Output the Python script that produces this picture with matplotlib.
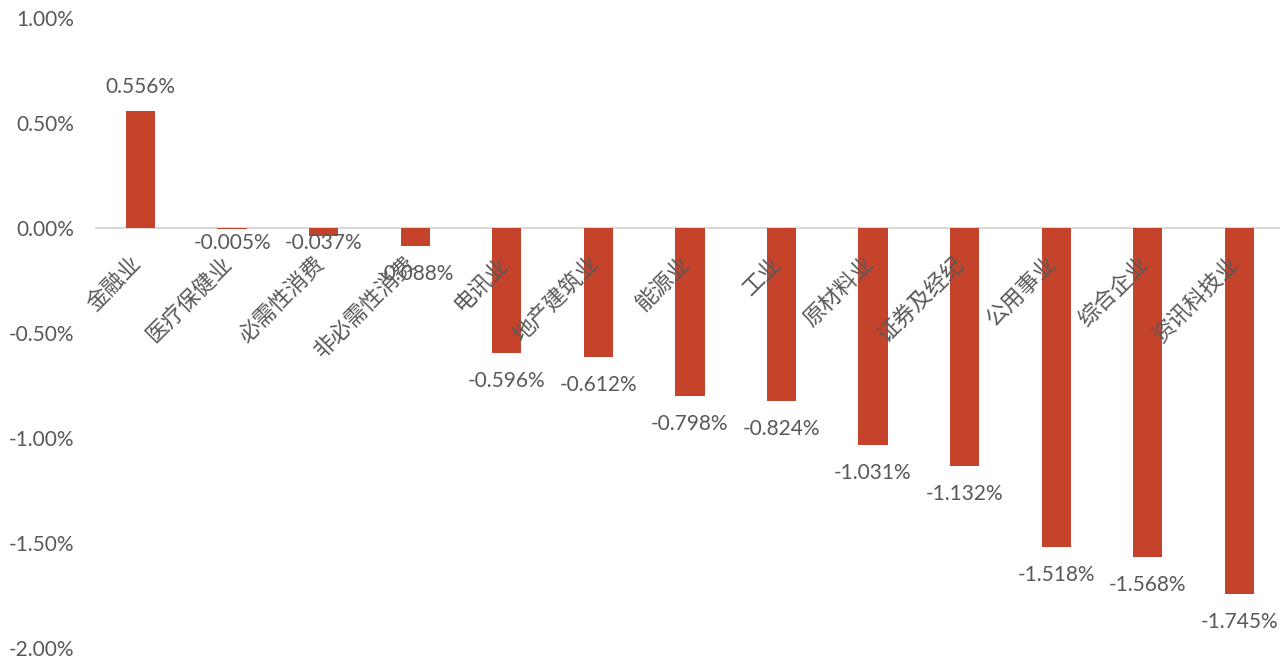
import matplotlib
matplotlib.use("Agg")
import matplotlib.pyplot as plt
from matplotlib.ticker import FuncFormatter, MultipleLocator

categories = ["金融业", "医疗保健业", "必需性消费", "非必需性消费", "电讯业", "地产建筑业",
              "能源业", "工业", "原材料业", "证券及经纪", "公用事业", "综合企业", "资讯科技业"]
changes = [0.556, -0.005, -0.037, -0.088, -0.596, -0.612, -0.798, -0.824,
           -1.031, -1.132, -1.518, -1.568, -1.745]

bar_color = "#C5432A"
text_color = "#595959"
num_font = ["Lato", "DejaVu Sans"]
cjk_font = ["Noto Sans CJK SC", "DejaVu Sans"]

fig = plt.figure(figsize=(12.8, 6.66), dpi=100)
ax = fig.add_axes([0.074, 0.027, 0.93, 0.946])

x = list(range(len(categories)))
ax.bar(x, changes, width=0.32, color=bar_color, zorder=2)

ax.set_xlim(-0.5, len(categories) - 0.5)
ax.set_ylim(-2.0, 1.0)
ax.yaxis.set_major_locator(MultipleLocator(0.5))
ax.yaxis.set_major_formatter(FuncFormatter(lambda v, _: f"{v:.2f}%"))
for lbl in ax.get_yticklabels():
    lbl.set_fontfamily(num_font)
ax.tick_params(axis="y", length=0, pad=15, labelsize=15, labelcolor=text_color)
ax.tick_params(axis="x", length=0, labelbottom=False)
for side in ("top", "right", "bottom", "left"):
    ax.spines[side].set_visible(False)

ax.axhline(0, color="#D9D9D9", linewidth=1.5, zorder=1)

for xi, v, name in zip(x, changes, categories):
    label = f"{v:.3f}%"
    if v >= 0:
        ax.annotate(label, (xi, v), xytext=(0, 24), textcoords="offset pixels",
                    ha="center", va="center", fontsize=15, color=text_color,
                    family=num_font)
    elif v > -0.05:
        # very short bars: value sits just under the baseline
        ax.annotate(label, (xi, 0), xytext=(0, -15), textcoords="offset pixels",
                    ha="center", va="center", fontsize=15, color=text_color,
                    family=num_font)
    else:
        ax.annotate(label, (xi, v), xytext=(0, -28), textcoords="offset pixels",
                    ha="center", va="center", fontsize=15, color=text_color,
                    family=num_font)
    ax.annotate(name, (xi, 0), xytext=(-3, -32), textcoords="offset pixels",
                ha="right", va="center", rotation=45, rotation_mode="anchor",
                fontsize=16, color=text_color, family=cjk_font)

fig.savefig("out.png", dpi=100, facecolor="white")
